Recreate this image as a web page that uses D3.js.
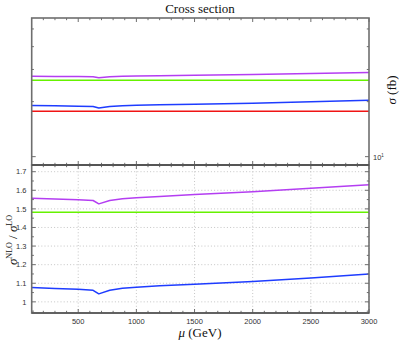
<!DOCTYPE html>
<html><head><meta charset="utf-8">
<script src="https://cdn.jsdelivr.net/npm/d3@7"></script>
<style>body{margin:0;background:#fff}svg{display:block}</style>
</head><body>
<script>
// ---- data ----
const mu = [100, 300, 500, 628, 677, 771, 880, 1000, 1200, 1500, 2000, 2500, 3000];
// top panel: cross sections (fb)
const sigmaPurple = [27.56, 27.49, 27.42, 27.35, 27.03, 27.35, 27.51, 27.61, 27.74, 27.93, 28.18, 28.51, 28.85];
const sigmaGreen  = [26.23, 26.23, 26.23, 26.23, 26.23, 26.23, 26.23, 26.23, 26.23, 26.23, 26.23, 26.23, 26.23];
const sigmaBlue   = [19.06, 18.97, 18.90, 18.80, 18.46, 18.80, 18.99, 19.10, 19.22, 19.38, 19.63, 19.97, 20.36];
const sigmaRed    = [17.70, 17.70, 17.70, 17.70, 17.70, 17.70, 17.70, 17.70, 17.70, 17.70, 17.70, 17.70, 17.70];
// bottom panel: K-factors
const ratioPurple = [1.557, 1.553, 1.549, 1.545, 1.527, 1.545, 1.554, 1.560, 1.567, 1.578, 1.592, 1.611, 1.630];
const ratioGreen  = [1.482, 1.482, 1.482, 1.482, 1.482, 1.482, 1.482, 1.482, 1.482, 1.482, 1.482, 1.482, 1.482];
const ratioBlue   = [1.077, 1.072, 1.068, 1.062, 1.043, 1.062, 1.073, 1.079, 1.086, 1.095, 1.109, 1.128, 1.150];
const xTicks = [500, 1000, 1500, 2000, 2500, 3000];
const yTicksBottom = [1, 1.1, 1.2, 1.3, 1.4, 1.5, 1.6, 1.7];
const yTicksTopMinor = [20, 30, 40, 50];

const colors = {purple: "#b43ef2", green: "#66f200", blue: "#1e3cff", red: "#f01414"};

const W = 403, H = 343;
const L = 31.7, R = 369, T1 = 18, B1 = 165, T2 = 165, B2 = 313;
const svg = d3.select("body").append("svg").attr("width", W).attr("height", H);

const x = d3.scaleLinear().domain([100, 3000]).range([L, R]);
const yTop = d3.scaleLog().domain([9.0, 57.4]).range([B1, T1]);
const yBot = d3.scaleLinear().domain([0.94, 1.736]).range([B2, T2]);

const axisColor = "#6e6e6e";
const tickFont = "'Liberation Sans', Arial, sans-serif";
const serif = "'Liberation Serif', 'DejaVu Serif', serif";

// grid bottom panel
const grid = svg.append("g").attr("stroke", "#b8b8b8").attr("stroke-width", 0.8).attr("stroke-dasharray", "1,2.2");
xTicks.forEach(t => grid.append("line").attr("x1", x(t)).attr("x2", x(t)).attr("y1", T2).attr("y2", B2));
yTicksBottom.forEach(t => grid.append("line").attr("x1", L).attr("x2", R).attr("y1", yBot(t)).attr("y2", yBot(t)));

// lines
function drawLine(yScale, vals, col) {
  const line = d3.line().x((d, i) => x(mu[i])).y(d => yScale(d));
  svg.append("path").datum(vals).attr("d", line).attr("fill", "none")
    .attr("stroke", col).attr("stroke-width", 1.5).attr("stroke-linejoin", "round");
}
drawLine(yTop, sigmaPurple, colors.purple);
drawLine(yTop, sigmaGreen, colors.green);
drawLine(yTop, sigmaBlue, colors.blue);
drawLine(yTop, sigmaRed, colors.red);
drawLine(yBot, ratioPurple, colors.purple);
drawLine(yBot, ratioGreen, colors.green);
drawLine(yBot, ratioBlue, colors.blue);

// ticks
const tk = svg.append("g").attr("stroke", axisColor).attr("stroke-width", 1);
const xMinor = d3.range(200, 3000, 100).filter(v => v % 500 !== 0);
function xTickSet(yLine, dir) {
  xTicks.forEach(t => tk.append("line").attr("x1", x(t)).attr("x2", x(t)).attr("y1", yLine).attr("y2", yLine + dir * 4));
  xMinor.forEach(t => tk.append("line").attr("x1", x(t)).attr("x2", x(t)).attr("y1", yLine).attr("y2", yLine + dir * 2.2));
}
xTickSet(T1, 1); xTickSet(B1, -1); xTickSet(T2, 1); xTickSet(B2, -1);
// top panel y ticks (log)
[10].forEach(t => {
  tk.append("line").attr("x1", L).attr("x2", L + 4).attr("y1", yTop(t)).attr("y2", yTop(t));
  tk.append("line").attr("x1", R).attr("x2", R - 4).attr("y1", yTop(t)).attr("y2", yTop(t));
});
yTicksTopMinor.forEach(t => {
  tk.append("line").attr("x1", L).attr("x2", L + 2.2).attr("y1", yTop(t)).attr("y2", yTop(t));
  tk.append("line").attr("x1", R).attr("x2", R - 2.2).attr("y1", yTop(t)).attr("y2", yTop(t));
});
// bottom panel y ticks
const yMinor = d3.range(0.95, 1.74, 0.05).map(v => +v.toFixed(2)).filter(v => Math.abs(v * 10 - Math.round(v * 10)) > 1e-6);
yTicksBottom.forEach(t => {
  tk.append("line").attr("x1", L).attr("x2", L + 4).attr("y1", yBot(t)).attr("y2", yBot(t));
  tk.append("line").attr("x1", R).attr("x2", R - 4).attr("y1", yBot(t)).attr("y2", yBot(t));
});
yMinor.forEach(t => {
  tk.append("line").attr("x1", L).attr("x2", L + 2.2).attr("y1", yBot(t)).attr("y2", yBot(t));
  tk.append("line").attr("x1", R).attr("x2", R - 2.2).attr("y1", yBot(t)).attr("y2", yBot(t));
});

// frames
const fr = svg.append("g").attr("fill", "none").attr("stroke", axisColor).attr("stroke-width", 1.6);
fr.append("rect").attr("x", L).attr("y", T1).attr("width", R - L).attr("height", B1 - T1);
fr.append("rect").attr("x", L).attr("y", T2).attr("width", R - L).attr("height", B2 - T2);
svg.append("line").attr("x1", L).attr("x2", R).attr("y1", B1).attr("y2", B1).attr("stroke", "#555").attr("stroke-width", 1.8);
svg.append("line").attr("x1", L).attr("x2", R).attr("y1", B2).attr("y2", B2).attr("stroke", "#555").attr("stroke-width", 1.6);

// tick labels
const lab = svg.append("g").attr("font-family", tickFont).attr("font-size", 7.5).attr("fill", "#333");
xTicks.forEach(t => lab.append("text").attr("x", x(t)).attr("y", 323.5).attr("text-anchor", "middle").text(t));
yTicksBottom.forEach(t => lab.append("text").attr("x", 26.5).attr("y", yBot(t) + 2.7).attr("text-anchor", "end").text(t === 1 ? "1" : t.toFixed(1)));
const tenLab = lab.append("text").attr("x", 373).attr("y", yTop(10) + 3);
tenLab.append("tspan").text("10");
tenLab.append("tspan").attr("dy", -3).attr("font-size", 4.5).text("1");

// titles
svg.append("text").attr("x", 200).attr("y", 13).attr("text-anchor", "middle")
  .attr("font-family", serif).attr("font-size", 13).attr("fill", "#111").text("Cross section");

const xl = svg.append("text").attr("x", 200).attr("y", 337).attr("text-anchor", "middle")
  .attr("font-family", serif).attr("font-size", 13).attr("fill", "#111");
xl.append("tspan").attr("font-style", "italic").text("μ");
xl.append("tspan").text(" (GeV)");

const yr = svg.append("text").attr("transform", "translate(396,90) rotate(-90)").attr("text-anchor", "middle")
  .attr("font-family", serif).attr("font-size", 13).attr("fill", "#111");
yr.append("tspan").attr("font-style", "italic").text("σ");
yr.append("tspan").text(" (fb)");

const yl = svg.append("text").attr("transform", "translate(17,240) rotate(-90)").attr("text-anchor", "middle")
  .attr("font-family", serif).attr("font-size", 13).attr("fill", "#111");
yl.append("tspan").attr("font-style", "italic").text("σ");
yl.append("tspan").attr("dy", -5).attr("font-size", 8).text("NLO");
yl.append("tspan").attr("dy", 5).text(" / ");
yl.append("tspan").attr("font-style", "italic").text("σ");
yl.append("tspan").attr("dy", -5).attr("font-size", 8).text("LO");
</script>
</body></html>
